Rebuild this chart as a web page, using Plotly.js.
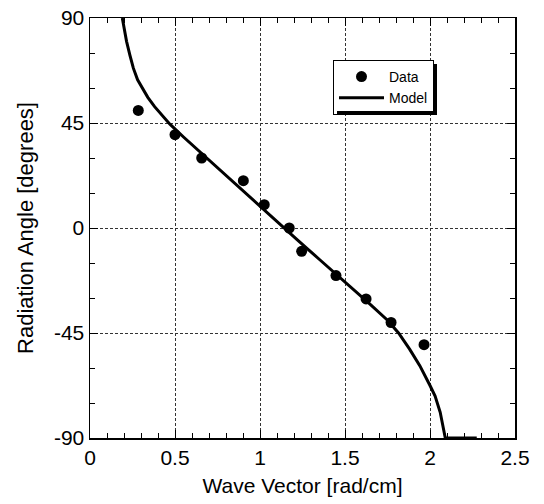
<!DOCTYPE html>
<html><head><meta charset="utf-8">
<script src="https://cdn.plot.ly/plotly-3.0.1.min.js"></script>
<style>html,body{margin:0;padding:0;background:#fff}#chart{width:544px;height:504px}</style>
</head><body><div id="chart"></div>
<script>
// Measured data points
const dataX = [0.284, 0.50, 0.657, 0.902, 1.025, 1.172, 1.245, 1.447, 1.624, 1.771, 1.965];
const dataY = [50.4, 40, 30, 20.3, 10, 0, -10, -20.4, -30.4, -40.5, -50];
// Model curve
const modelX = [0.19, 0.20, 0.215, 0.235, 0.255, 0.28, 0.31, 0.34, 0.38, 0.42, 0.47, 0.55, 0.65, 0.745, 0.85, 1.0, 1.15, 1.218, 1.35, 1.5, 1.65, 1.75, 1.815, 1.88, 1.94, 2.0, 2.03, 2.06, 2.09, 2.275];
const modelY = [90, 85.5, 80, 74, 68.5, 63.5, 59.5, 56, 52, 48.5, 44.5, 39, 32.4, 26, 19, 9.3, -0.5, -5, -13.5, -23, -32.8, -39.5, -45, -51.9, -59, -67.5, -72, -79, -90, -90];
// Tick labels
const xTickVals = [0, 0.5, 1, 1.5, 2, 2.5];
const xTickText = ['0', '0.5', '1', '1.5', '2', '2.5'];
const yTickVals = [-90, -45, 0, 45, 90];
const yTickText = ['-90', '-45', '0', '45', '90'];

const FONT = 'Liberation Sans, Arial, Helvetica, sans-serif';

const traces = [
  {x: dataX, y: dataY, type: 'scatter', mode: 'markers', name: 'Data',
   marker: {color: 'black', size: 11}, cliponaxis: false},
  {x: modelX, y: modelY, type: 'scatter', mode: 'lines', name: 'Model',
   line: {color: 'black', width: 3}}
];

function axisBase() {
  return {
    ticks: 'inside', ticklen: 8, tickwidth: 1, tickcolor: 'black',
    showline: true, linecolor: 'black', linewidth: 1.5, mirror: 'ticks',
    showgrid: true, gridcolor: '#333', gridwidth: 1, griddash: '3px,2px',
    zeroline: false, tickmode: 'array',
    tickfont: {family: FONT, size: 21, color: 'black'}
  };
}

const M = {l: 90, r: 29, t: 18, b: 66};
const W = 544, H = 504;
const PW = W - M.l - M.r, PH = H - M.t - M.b;
const px2x = px => (px - M.l) / PW;
const px2y = py => (H - M.b - py) / PH;

const xaxis = Object.assign(axisBase(), {
  range: [0, 2.5], tickvals: xTickVals, ticktext: xTickText,
  minor: {tick0: 0, dtick: 0.1, ticks: 'inside', ticklen: 5, tickcolor: 'black', tickwidth: 1, showgrid: false},
  title: {text: 'Wave Vector [rad/cm]', font: {family: FONT, size: 21, color: 'black'}, standoff: 10}
});
const yaxis = Object.assign(axisBase(), {
  range: [-90, 90], tickvals: yTickVals, ticktext: yTickText,
  minor: {tick0: 0, dtick: 15, ticks: 'inside', ticklen: 5, tickcolor: 'black', tickwidth: 1, showgrid: false},
  title: {text: 'Radiation Angle [degrees]', font: {family: FONT, size: 22, color: 'black'}, standoff: 14}
});

// legend drop shadow: two thin black bars along the right and bottom edges
function bar(left, top, w, h) {
  return {xref: 'paper', yref: 'paper', x: px2x(left), y: px2y(top),
          xanchor: 'left', yanchor: 'top', showarrow: false, text: ' ',
          width: w, height: h, bgcolor: 'black', borderpad: 0, borderwidth: 0,
          font: {size: 2, color: 'black'}};
}

const layout = {
  width: W, height: H,
  margin: M,
  paper_bgcolor: 'white', plot_bgcolor: 'white',
  showlegend: true,
  legend: {x: px2x(333), y: px2y(60), xanchor: 'left', yanchor: 'top',
           bgcolor: 'white', bordercolor: 'black', borderwidth: 1,
           font: {family: FONT, size: 14, color: 'black'}, itemwidth: 45},
  annotations: [bar(432.5, 64, 4, 50), bar(337, 110.5, 99.5, 3.5)],
  xaxis: xaxis, yaxis: yaxis
};

Plotly.newPlot('chart', traces, layout, {displayModeBar: false, staticPlot: true});
</script>
</body></html>
